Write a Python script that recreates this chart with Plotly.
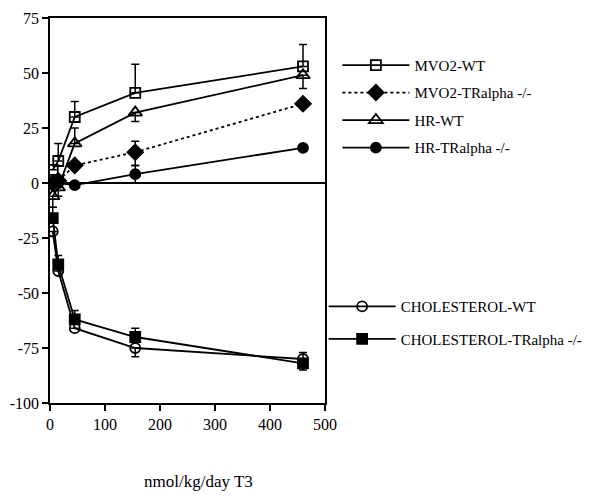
import plotly.graph_objects as go

dose = [5, 15, 45, 155, 460]

mvo2_wt = [6, 10, 30, 41, 53]
mvo2_wt_up = [0, 8, 7, 13, 10]
mvo2_wt_dn = [0, 0, 0, 0, 0]

mvo2_tr = [0, 1, 8, 14, 36]
mvo2_tr_up = [0, 0, 0, 5, 0]
mvo2_tr_dn = [0, 0, 0, 6, 0]

hr_wt = [-6, -2, 18, 32, 49]
hr_wt_up = [0, 0, 7, 0, 0]
hr_wt_dn = [5, 4, 0, 4, 6]

hr_tr = [0, 0, -1, 4, 16]
hr_tr_up = [0, 0, 0, 4, 0]
hr_tr_dn = [0, 0, 0, 4, 0]

chol_wt = [-22, -40, -66, -75, -80]
chol_wt_up = [0, 0, 0, 0, 3]
chol_wt_dn = [0, 0, 0, 4, 0]

chol_tr = [-16, -37, -62, -70, -82]
chol_tr_up = [5, 4, 4, 4, 0]
chol_tr_dn = [0, 0, 0, 0, 3]

x_ticks = [0, 100, 200, 300, 400, 500]
y_ticks = [-100, -75, -50, -25, 0, 25, 50, 75]
y_ticktext = ["-100", "-75", "-50", "-25", "0", "25", "50", "75"]

FONT = "Liberation Serif"

series = [
    ("MVO2-WT", mvo2_wt, mvo2_wt_up, mvo2_wt_dn, "square-open", 10, "solid", "legend"),
    ("MVO2-TRalpha -/-", mvo2_tr, mvo2_tr_up, mvo2_tr_dn, "diamond", 12, "dot", "legend"),
    ("HR-WT", hr_wt, hr_wt_up, hr_wt_dn, "triangle-up-open", 12, "solid", "legend"),
    ("HR-TRalpha -/-", hr_tr, hr_tr_up, hr_tr_dn, "circle", 10, "solid", "legend"),
    ("CHOLESTEROL-WT", chol_wt, chol_wt_up, chol_wt_dn, "circle-open", 10, "solid", "legend2"),
    ("CHOLESTEROL-TRalpha -/-", chol_tr, chol_tr_up, chol_tr_dn, "square", 10, "solid", "legend2"),
]

fig = go.Figure()
for name, ys, up, dn, sym, size, dash, leg in series:
    fig.add_trace(go.Scatter(
        x=dose, y=ys, name=name, mode="lines+markers",
        line=dict(color="black", width=1.8, dash=dash),
        marker=dict(symbol=sym, size=size, color="black",
                    line=dict(color="black", width=1.8)),
        error_y=dict(type="data", symmetric=False, array=up, arrayminus=dn,
                     color="black", thickness=1.5, width=4),
        legend=leg, legendgroup=name,
    ))

fig.update_layout(
    width=591, height=492,
    margin=dict(l=42, r=274, t=10, b=97, autoexpand=False),
    paper_bgcolor="white", plot_bgcolor="white",
    font=dict(family=FONT, size=15, color="black"),
    showlegend=True,
    legend=dict(x=1.045, y=0.92, xanchor="left", yanchor="top",
                font=dict(family=FONT, size=15), tracegroupgap=5,
                itemwidth=67, bgcolor="rgba(0,0,0,0)"),
    legend2=dict(x=0.995, y=0.293, xanchor="left", yanchor="top",
                 font=dict(family=FONT, size=15), tracegroupgap=10,
                 itemwidth=67, bgcolor="rgba(0,0,0,0)"),
    xaxis=dict(range=[0, 500], tickvals=x_ticks,
               ticks="outside", ticklen=6, tickwidth=1.5, tickcolor="black",
               showline=True, linecolor="black", linewidth=1.5, mirror=True,
               showgrid=False, zeroline=False, automargin=False,
               tickfont=dict(family=FONT, size=16)),
    yaxis=dict(range=[-100, 75], tickvals=y_ticks, ticktext=y_ticktext,
               ticks="outside", ticklen=6, tickwidth=1.5, tickcolor="black",
               showline=True, linecolor="black", linewidth=1.5, mirror=True,
               showgrid=False, zeroline=True, zerolinecolor="black", zerolinewidth=1.5,
               automargin=False, tickfont=dict(family=FONT, size=16)),
    annotations=[dict(text="nmol/kg/day T3", xref="paper", yref="paper",
                      x=0.54, y=-0.205, xanchor="center", yanchor="middle",
                      showarrow=False, font=dict(family=FONT, size=17))],
)

fig.write_html("out.html")
